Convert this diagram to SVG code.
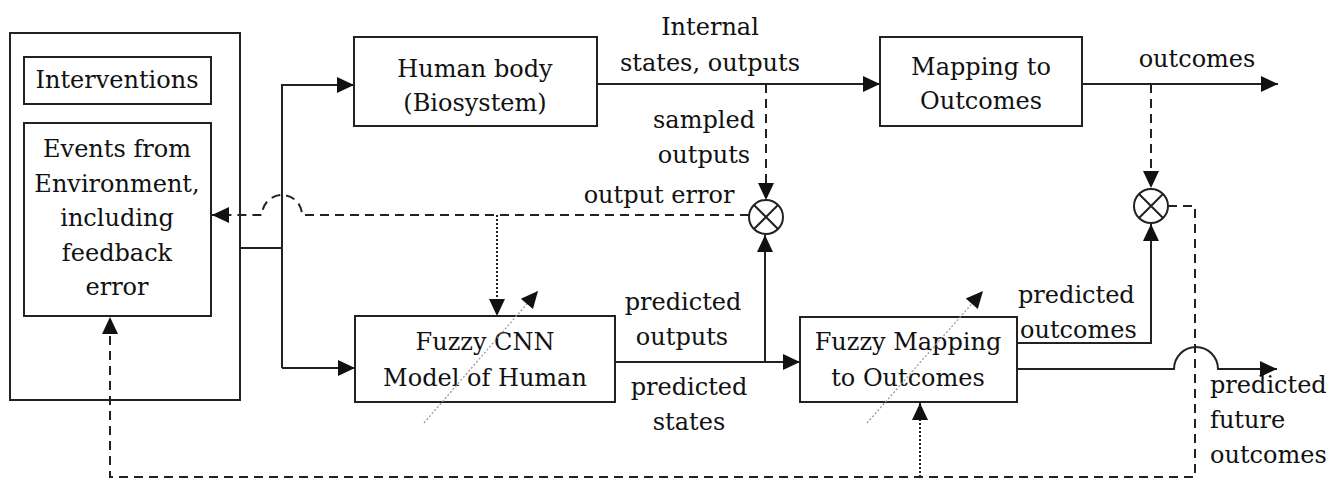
<svg xmlns="http://www.w3.org/2000/svg" width="1335" height="482" viewBox="0 0 1335 482">
<style>
.box{fill:#fff;stroke:#222;stroke-width:2}
.t{font-family:"DejaVu Serif","Liberation Serif",serif;font-size:24px;fill:#111;text-anchor:middle}
.l{text-anchor:start}
.solid{fill:none;stroke:#222;stroke-width:2}
.dash{fill:none;stroke:#222;stroke-width:2;stroke-dasharray:9,6}
.dot{fill:none;stroke:#222;stroke-width:2;stroke-dasharray:2,2}
.diag{fill:none;stroke:#999;stroke-width:1.3;stroke-dasharray:2,2}
</style>
<defs>
<marker id="ah" markerUnits="userSpaceOnUse" markerWidth="20" markerHeight="18" refX="17" refY="8" orient="auto" overflow="visible">
<path d="M0,0 L17,8 L0,16 z" fill="#111"/>
</marker>
</defs>
<rect width="1335" height="482" fill="#fff"/>
<g id="node-environment">
<rect class="box" x="10" y="33" width="230" height="367"/>
</g>
<g id="node-interventions">
<rect class="box" x="24" y="57" width="187" height="47"/>
<text class="t" x="117" y="88">Interventions</text>
</g>
<g id="node-events">
<rect class="box" x="24" y="123" width="187" height="193"/>
<text class="t" x="117" y="157">Events from</text>
<text class="t" x="117" y="192">Environment,</text>
<text class="t" x="117" y="226">including</text>
<text class="t" x="117" y="261">feedback</text>
<text class="t" x="117" y="295">error</text>
</g>
<g id="node-human-body">
<rect class="box" x="354" y="37" width="243" height="89"/>
<text class="t" x="475" y="77">Human body</text>
<text class="t" x="475" y="111">(Biosystem)</text>
</g>
<g id="node-mapping">
<rect class="box" x="880" y="37" width="202" height="89"/>
<text class="t" x="981" y="75">Mapping to</text>
<text class="t" x="981" y="109">Outcomes</text>
</g>
<g id="node-fuzzy-cnn">
<rect class="box" x="355" y="316" width="260" height="86"/>
<text class="t" x="485" y="350">Fuzzy CNN</text>
<text class="t" x="485" y="386">Model of Human</text>
</g>
<g id="node-fuzzy-mapping">
<rect class="box" x="800" y="317" width="217" height="85"/>
<text class="t" x="908" y="350">Fuzzy Mapping</text>
<text class="t" x="908" y="386">to Outcomes</text>
</g>
<g id="node-comparator-1">
<circle class="box" cx="766" cy="217" r="17"/>
<path class="solid" d="M754,205 L778,229 M778,205 L754,229" stroke-width="1.5"/>
</g>
<g id="node-comparator-2">
<circle class="box" cx="1151" cy="206" r="17"/>
<path class="solid" d="M1139,194 L1163,218 M1163,194 L1139,218" stroke-width="1.5"/>
</g>
<g id="connectors">
<path class="solid" d="M240,248 H282"/>
<path class="solid" d="M282,368 V85 H354" marker-end="url(#ah)"/>
<path class="solid" d="M282,368 H355" marker-end="url(#ah)"/>
<path class="solid" d="M597,84 H880" marker-end="url(#ah)"/>
<path class="dash" d="M766,84 V200" marker-end="url(#ah)"/>
<path class="dash" d="M749,215 H302 A20,20 0 0 0 262,215 H212" marker-end="url(#ah)"/>
<path class="dot" d="M497,215 V316" marker-end="url(#ah)"/>
<path class="diag" d="M424,423 L538,291"/>
<path class="solid" d="M530,300.3 L538,291" marker-end="url(#ah)" stroke-opacity="0"/>
<path class="diag" d="M867,423 L983,291"/>
<path class="solid" d="M975,300.1 L983,291" marker-end="url(#ah)" stroke-opacity="0"/>
<path class="solid" d="M615,362 H800" marker-end="url(#ah)"/>
<path class="solid" d="M765,362 V235" marker-end="url(#ah)"/>
<path class="solid" d="M1082,84 H1278" marker-end="url(#ah)"/>
<path class="dash" d="M1151,84 V188" marker-end="url(#ah)"/>
<path class="solid" d="M1017,343 H1151 V224" marker-end="url(#ah)"/>
<path class="solid" d="M1017,369 H1174 A22,22 0 0 1 1218,369 H1277" marker-end="url(#ah)"/>
<path class="dash" d="M1168,206 H1195 V477 H110 V317" marker-end="url(#ah)"/>
<path class="dot" d="M920,477 V403" marker-end="url(#ah)"/>
</g>
<g id="labels">
<text class="t" x="710" y="35">Internal</text>
<text class="t" x="710" y="71">states, outputs</text>
<text class="t" x="704" y="128">sampled</text>
<text class="t" x="704" y="163">outputs</text>
<text class="t" x="659" y="203">output error</text>
<text class="t" x="1197" y="67">outcomes</text>
<text class="t" x="683" y="310">predicted</text>
<text class="t" x="682" y="345">outputs</text>
<text class="t" x="689" y="395">predicted</text>
<text class="t" x="689" y="430">states</text>
<text class="t l" x="1018" y="303">predicted</text>
<text class="t l" x="1020" y="338">outcomes</text>
<text class="t l" x="1210" y="393">predicted</text>
<text class="t l" x="1210" y="428">future</text>
<text class="t l" x="1210" y="463">outcomes</text>
</g>
</svg>
